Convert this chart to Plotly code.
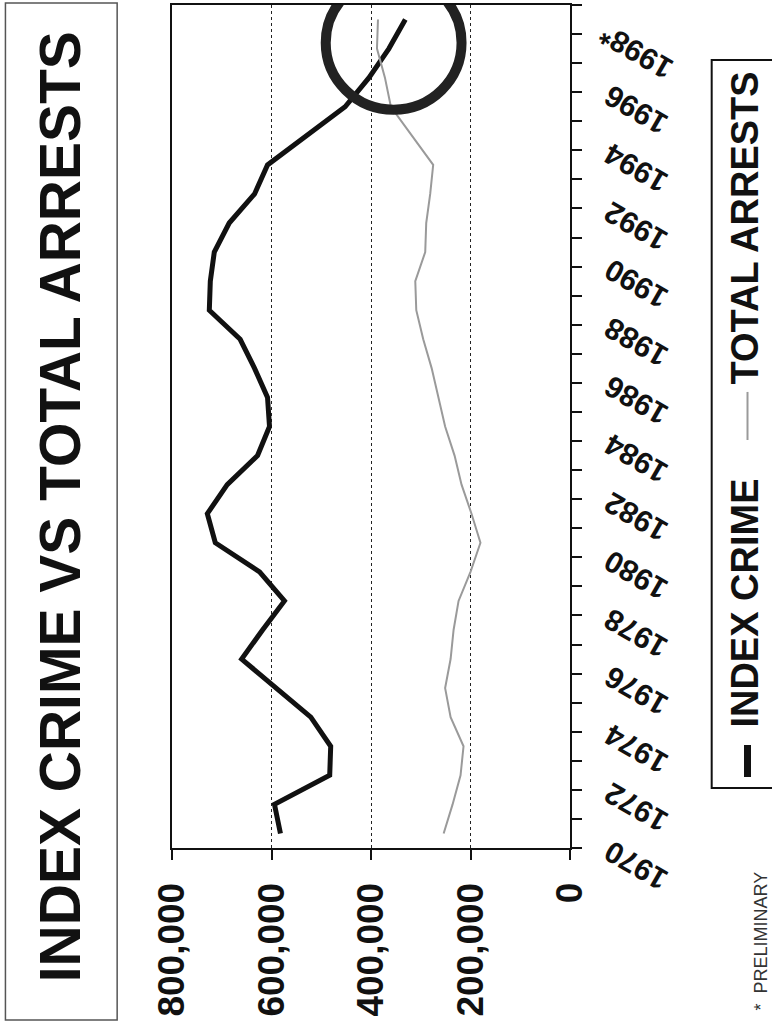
import plotly.graph_objects as go

years = list(range(1970, 1999))
index_crime = [582000, 594000, 483000, 481000, 521000, 592000, 660000, 618000, 574000, 624000,
               713000, 729000, 689000, 628000, 604000, 608000, 634000, 663000, 725000, 723000,
               715000, 685000, 634000, 608000, 531000, 452000, 404000, 364000, 331000]
total_arrests = [254000, 236000, 220000, 214000, 240000, 251000, 240000, 234000, 224000, 200000,
                 180000, 198000, 218000, 232000, 251000, 264000, 278000, 295000, 309000, 311000,
                 291000, 289000, 281000, 275000, 317000, 360000, 372000, 388000, 386000]
year_ticks = list(range(1970, 1999, 2))
year_labels = [str(y) for y in year_ticks[:-1]] + ["1998*"]
value_ticks = [0, 200000, 400000, 600000, 800000]
value_labels = ["0", "200,000", "400,000", "600,000", "800,000"]

FONT = "Liberation Sans, Arial, sans-serif"

fig = go.Figure()
fig.add_trace(go.Scatter(x=index_crime, y=years, mode="lines",
                         line=dict(color="#111111", width=5), name="INDEX CRIME"))
fig.add_trace(go.Scatter(x=total_arrests, y=years, mode="lines",
                         line=dict(color="#9a9a9a", width=2), name="TOTAL ARRESTS"))

fig.update_layout(
    width=772, height=1025,
    margin=dict(l=172, r=202, t=5, b=177, autoexpand=False),
    paper_bgcolor="white", plot_bgcolor="white",
    showlegend=False,
    font=dict(family=FONT, color="#111111"),
)
fig.update_xaxes(
    range=[800000, 0], tickvals=value_ticks, ticktext=value_labels,
    tickangle=-90, tickfont=dict(size=37, weight="bold", family=FONT),
    ticks="outside", ticklen=10, tickwidth=2, tickcolor="#111111",
    ticklabelstandoff=8,
    showline=True, linecolor="#111111", linewidth=2, mirror=True,
    showgrid=True, gridcolor="#222222", gridwidth=1, griddash="dot",
    zeroline=False, automargin=False,
)
fig.update_yaxes(
    side="right", range=[1969.5, 1998.5],
    tickvals=year_ticks, showticklabels=False, ticks="",
    minor=dict(tick0=1969.5, dtick=1, ticks="outside", ticklen=10, tickwidth=2, tickcolor="#111111"),
    showline=True, linecolor="#111111", linewidth=2, mirror=True,
    showgrid=False, zeroline=False, automargin=False,
)

# slanted year labels (the whole chart is turned on its side)
for yv, lab in zip(year_ticks, year_labels):
    fig.add_annotation(text=lab, xref="paper", yref="y", x=1.165, y=yv, yshift=-32,
                       xanchor="center", yanchor="middle",
                       textangle=-150, showarrow=False,
                       font=dict(size=30, weight="bold", family=FONT, color="#111111"))

# hand-drawn circle highlight
fig.add_shape(type="circle", xref="x", yref="y", x0=491000, x1=218000, y0=1994.9, y1=1999.5,
              line=dict(color="#222222", width=10))

# title box
fig.add_shape(type="rect", xref="paper", yref="paper", x0=-0.4185, x1=-0.1378, y0=-0.204, y1=1.0024,
              line=dict(color="#555555", width=1.5))
fig.add_annotation(text="INDEX CRIME VS TOTAL ARRESTS", xref="paper", yref="paper",
                   x=-0.2807, y=0.4045, xanchor="center", yanchor="middle",
                   textangle=-90, showarrow=False,
                   font=dict(size=57, weight="bold", family=FONT, color="#111111"))

# legend box
fig.add_shape(type="rect", xref="paper", yref="paper", x0=1.356, x1=1.53, y0=0.0712, y1=0.9348,
              line=dict(color="#111111", width=2))
fig.add_shape(type="line", xref="paper", yref="paper", x0=1.446, x1=1.446, y0=0.0842, y1=0.1222,
              line=dict(color="#111111", width=7))
fig.add_shape(type="line", xref="paper", yref="paper", x0=1.446, x1=1.446, y0=0.484, y1=0.541,
              line=dict(color="#9a9a9a", width=2))
fig.add_annotation(text="INDEX CRIME", xref="paper", yref="paper", x=1.4386, y=0.2906,
                   xanchor="center", yanchor="middle", textangle=-90, showarrow=False,
                   font=dict(size=38, weight="bold", family=FONT, color="#111111"))
fig.add_annotation(text="TOTAL ARRESTS", xref="paper", yref="paper", x=1.4386, y=0.7355,
                   xanchor="center", yanchor="middle", textangle=-90, showarrow=False,
                   font=dict(size=38, weight="bold", family=FONT, color="#111111"))
fig.add_annotation(text="*  PRELIMINARY", xref="paper", yref="paper", x=1.4787, y=-0.1103,
                   xanchor="center", yanchor="middle", textangle=-90, showarrow=False,
                   font=dict(size=18, family=FONT, color="#333333"))

fig.write_html("out.html", config={"displayModeBar": False},
               post_script="document.body.style.margin='0';")
